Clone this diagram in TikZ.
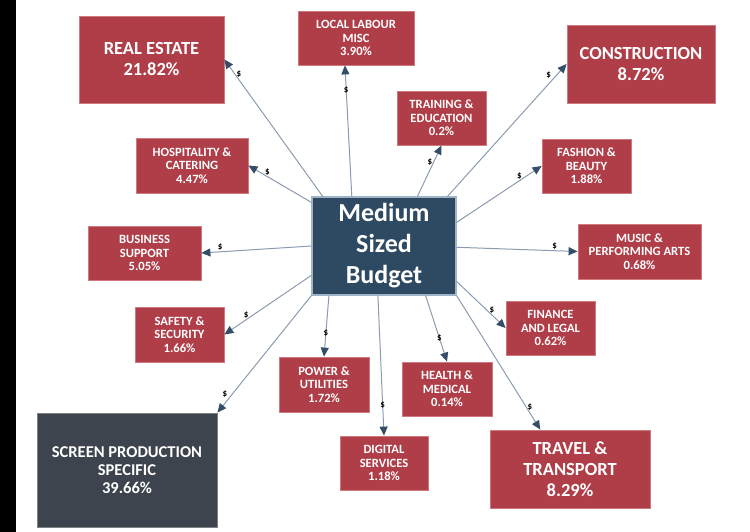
\documentclass[tikz,border=0pt]{standalone}
\usepackage{fontspec}
\setmainfont{Carlito}
\usetikzlibrary{positioning,arrows.meta}
\definecolor{boxred}{RGB}{176,62,72}
\definecolor{boxredline}{RGB}{208,122,128}
\definecolor{hubblue}{RGB}{46,74,98}
\definecolor{hubline}{RGB}{160,180,200}
\definecolor{screengrey}{RGB}{62,68,78}
\definecolor{flowline}{RGB}{140,155,175}
\definecolor{tipblue}{RGB}{52,78,104}
\tikzset{
  sector/.style={rectangle, fill=boxred, draw=boxredline, line width=0.8pt, text=white,
    align=center, inner sep=0pt, font=\bfseries\fontsize{12.6}{13.5}\selectfont},
  bigsector/.style={sector, font=\bfseries\fontsize{18.5}{21}\selectfont},
  hub/.style={rectangle, fill=hubblue, draw=hubline, line width=1.2pt, text=white,
    align=center, inner sep=0pt, font=\bfseries\fontsize{26}{31}\selectfont},
  flow/.style={draw=flowline, line width=1pt, -{Triangle[length=9pt,width=8pt,color=tipblue]}},
  cash/.style={font=\bfseries\fontsize{9}{9}\selectfont, inner sep=1pt}
}

\begin{document}
\begin{tikzpicture}[x=1pt,y=-1pt]
  \useasboundingbox (0,0) rectangle (750,532);
  \fill[black] (0,0) rectangle (16,532);

  \node[hub, minimum width=144pt, minimum height=98pt] (mid) at (384,246) {Medium\\Sized\\Budget};

  \node[bigsector, minimum width=145pt, minimum height=87pt] (real_estate) at (151.5,59.5) {REAL ESTATE\\21.82\%};
  \node[sector, minimum width=116pt, minimum height=54pt] (local_labour) at (356,38) {LOCAL LABOUR\\MISC\\3.90\%};
  \node[bigsector, minimum width=148pt, minimum height=78pt] (construction) at (641,64) {CONSTRUCTION\\8.72\%};
  \node[sector, minimum width=89pt, minimum height=54pt] (training) at (441.5,118) {TRAINING \&\\EDUCATION\\0.2\%};
  \node[sector, minimum width=112pt, minimum height=55pt] (hospitality) at (192,165.5) {HOSPITALITY \&\\CATERING\\4.47\%};
  \node[sector, minimum width=89pt, minimum height=54pt] (fashion) at (586.5,166) {FASHION \&\\BEAUTY\\1.88\%};
  \node[sector, minimum width=113pt, minimum height=54pt] (business) at (144.5,253) {BUSINESS\\SUPPORT\\5.05\%};
  \node[sector, minimum width=123pt, minimum height=55pt] (music) at (639.5,251.5) {MUSIC \&\\PERFORMING ARTS\\0.68\%};
  \node[sector, minimum width=89pt, minimum height=55pt] (safety) at (179.5,334.5) {SAFETY \&\\SECURITY\\1.66\%};
  \node[sector, minimum width=89pt, minimum height=54pt] (finance) at (550.5,328) {FINANCE\\AND LEGAL\\0.62\%};
  \node[sector, minimum width=90pt, minimum height=55pt] (power) at (324,384.5) {POWER \&\\UTILITIES\\1.72\%};
  \node[sector, minimum width=90pt, minimum height=54pt] (health) at (447,389) {HEALTH \&\\MEDICAL\\0.14\%};
  \node[sector, minimum width=88pt, minimum height=54pt] (digital) at (384,463) {DIGITAL\\SERVICES\\1.18\%};
  \node[bigsector, minimum width=160pt, minimum height=78pt] (travel) at (570,469) {TRAVEL \&\\TRANSPORT\\8.29\%};
  \node[sector, fill=screengrey, draw=gray, minimum width=180pt, minimum height=114pt,
        font=\bfseries\fontsize{16.5}{18}\selectfont] (screen) at (127,470) {SCREEN PRODUCTION\\SPECIFIC\\39.66\%};

  \path[every edge/.style={flow}]
    (mid.141) edge node[cash, pos=0.89, right] {\$} (real_estate.east)
    (mid.123) edge node[cash, pos=0.81] {\$} (local_labour.248)
    (mid.56)  edge node[cash, pos=0.68, left] {\$} (training.south)
    (mid.38)  edge node[cash, pos=0.88, above left] {\$} (construction.west)
    (mid.149) edge node[cash, pos=0.70, above] {\$} (hospitality.east)
    (mid.18)  edge node[cash, pos=0.74, above] {\$} (fashion.west)
    (mid.180) edge node[cash, pos=0.83, above] {\$} (business.east)
    (mid.359) edge node[cash, pos=0.81, above] {\$} (music.west)
    (mid.202) edge node[cash, pos=0.75, above] {\$} (safety.east)
    (mid.334) edge node[cash, pos=0.72, above] {\$} (finance.west)
    (mid.south west) edge node[cash, pos=0.88, above left] {\$} (screen.north east)
    (mid.222) edge node[cash, pos=0.62] {\$} (power.north)
    (mid.263) edge node[cash, pos=0.78] {\$} (digital.north)
    (mid.310) edge node[cash, pos=0.65] {\$} (health.north)
    (mid.south east) edge node[cash, pos=0.83, right] {\$} (travel.127)
    ;
\end{tikzpicture}
\end{document}
